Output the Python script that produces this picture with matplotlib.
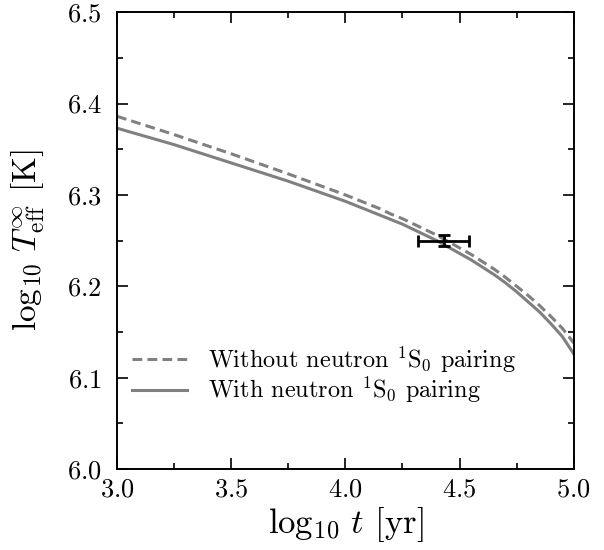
import matplotlib
matplotlib.use("Agg")
import matplotlib.pyplot as plt
from matplotlib.ticker import MultipleLocator

# LaTeX-like look
plt.rcParams["font.family"] = "serif"
plt.rcParams["font.serif"] = ["cmr10"]
plt.rcParams["mathtext.fontset"] = "cm"
plt.rcParams["axes.formatter.use_mathtext"] = True

# cooling curves
log_t = [3.0, 3.25, 3.5, 3.75, 4.0, 4.05, 4.1, 4.15, 4.2, 4.25, 4.3, 4.35, 4.4,
         4.45, 4.5, 4.55, 4.6, 4.65, 4.7, 4.75, 4.8, 4.85, 4.9, 4.95, 5.0]
T_no_pair = [6.386, 6.366, 6.345, 6.323, 6.300, 6.295, 6.290, 6.285, 6.279, 6.274,
             6.268, 6.262, 6.256, 6.249, 6.242, 6.235, 6.227, 6.219, 6.210, 6.200,
             6.190, 6.179, 6.167, 6.154, 6.138]
T_pair = [6.373, 6.355, 6.335, 6.315, 6.293, 6.288, 6.283, 6.278, 6.273, 6.268,
          6.262, 6.256, 6.250, 6.243, 6.236, 6.229, 6.221, 6.213, 6.204, 6.194,
          6.183, 6.172, 6.159, 6.145, 6.126]

# observed point
obs_t = 4.43
obs_t_err = 0.11
obs_T = 6.25
obs_T_err = 0.006

fig = plt.figure(figsize=(6.04, 5.5), dpi=100)
ax = fig.add_axes([0.1937, 0.147, 0.7563, 0.831])

ax.plot(log_t, T_no_pair, color="#808080", lw=2.2, ls=(0, (3.2, 1.7)),
        label=r"Without neutron $^1\mathrm{S}_0$ pairing")
ax.plot(log_t, T_pair, color="#808080", lw=2.2,
        label=r"With neutron $^1\mathrm{S}_0$ pairing")
ax.errorbar(obs_t, obs_T, xerr=obs_t_err, yerr=obs_T_err, fmt="none",
            ecolor="k", elinewidth=2, capsize=4, capthick=2)

ax.set_xlim(3.0, 5.0)
ax.set_ylim(6.0, 6.5)
ax.xaxis.set_major_locator(MultipleLocator(0.5))
ax.xaxis.set_minor_locator(MultipleLocator(0.25))
ax.yaxis.set_major_locator(MultipleLocator(0.1))
ax.yaxis.set_minor_locator(MultipleLocator(0.05))
ax.tick_params(which="both", direction="in", top=True, right=True, width=1.2)
ax.tick_params(which="major", length=8, labelsize=19, pad=6)
ax.tick_params(axis="y", which="major", pad=11)
ax.tick_params(which="minor", length=4.5)
for s in ax.spines.values():
    s.set_linewidth(1.4)

ax.set_xlabel(r"$\log_{10}\, t$ [yr]", fontsize=25, labelpad=3)
ax.set_ylabel(r"$\log_{10}\, T_{\rm eff}^{\infty}$ [K]", fontsize=24, labelpad=14)

ax.legend(loc="lower left", bbox_to_anchor=(0.0, 0.108), borderaxespad=0.2,
          frameon=False, fontsize=17.5, handlelength=2.3, handletextpad=0.85,
          labelspacing=0.0)

fig.savefig("out.png", dpi=100)
